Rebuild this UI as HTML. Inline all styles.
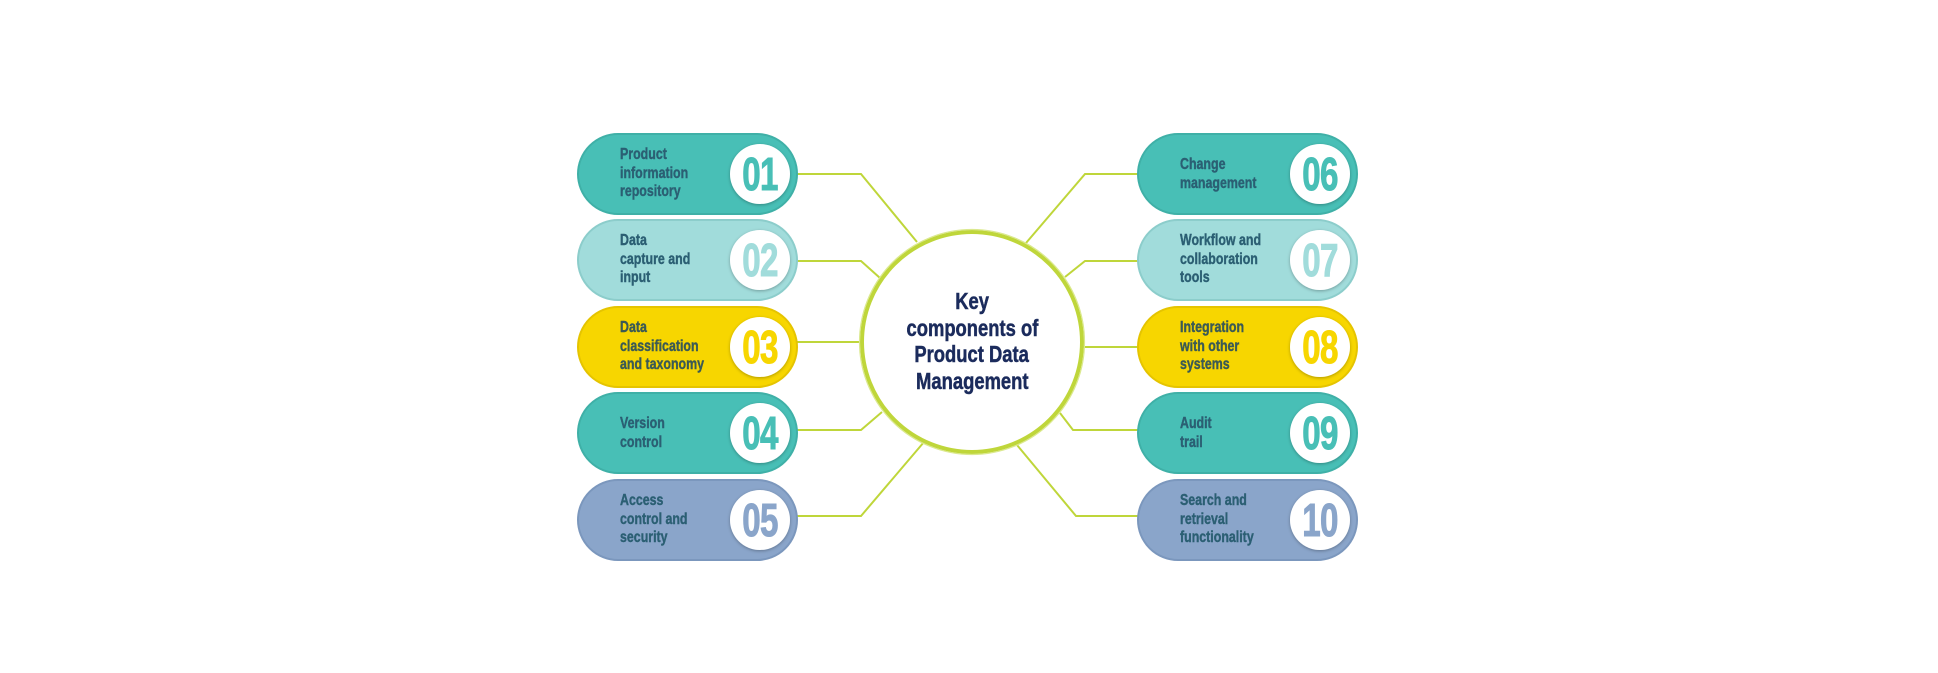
<!DOCTYPE html>
<html><head><meta charset="utf-8"><style>
body{margin:0;width:1938px;height:673px;background:#fff;overflow:hidden;position:relative;font-family:"Liberation Sans",sans-serif}
.t{position:absolute;font-weight:bold;font-size:15.5px;line-height:18.5px;color:#2b5f73;transform:scaleX(.8);transform-origin:left center;white-space:nowrap;-webkit-text-stroke:0.4px currentColor}
.n{position:absolute;width:64px;text-align:center;font-weight:bold;font-size:46px;line-height:60px;transform:scaleX(.72);letter-spacing:-1px;-webkit-text-stroke:1px currentColor}
.c{position:absolute;left:862px;top:288px;width:220px;text-align:center;font-weight:bold;font-size:23px;line-height:26.5px;color:#1b2b5c;-webkit-text-stroke:0.5px currentColor}
.c span{display:inline-block;transform:scaleX(.8)}
</style></head><body>
<svg width="1938" height="673" style="position:absolute;left:0;top:0">
<defs><filter id="s" x="-20%" y="-20%" width="140%" height="140%"><feDropShadow dx="0" dy="1" stdDeviation="1.5" flood-color="#000" flood-opacity=".3"/></filter></defs>
<g fill="none" stroke="#bfd63a" stroke-width="2">
<polyline points="797,174 861,174 917,242"/>
<polyline points="797,261 861,261 880,278"/>
<polyline points="797,342 862,342"/>
<polyline points="797,430 861,430 882,412"/>
<polyline points="797,516 861,516 924,442"/>
<polyline points="1138,174 1085,174 1026,243"/>
<polyline points="1138,261 1085,261 1065,277"/>
<polyline points="1138,347 1082,347"/>
<polyline points="1138,430 1073,430 1060,413"/>
<polyline points="1138,516 1076,516 1017,445"/>
</g>
<circle cx="972" cy="342" r="110" fill="#fff" stroke="#bfd63a" stroke-width="4"/>
<circle cx="972" cy="342" r="112.5" fill="none" stroke="#dbe98f" stroke-width="1.2"/>
<g stroke-width="2">
<rect x="578" y="134" width="219" height="80" rx="40" fill="#48bfb6" stroke="#3fb0a7"/>
<rect x="578" y="220" width="219" height="80" rx="40" fill="#a1dcdb" stroke="#8ccdcb"/>
<rect x="578" y="307" width="219" height="80" rx="40" fill="#f7d600" stroke="#e5c400"/>
<rect x="578" y="393" width="219" height="80" rx="40" fill="#48bfb6" stroke="#3fb0a7"/>
<rect x="578" y="480" width="219" height="80" rx="40" fill="#8aa5ca" stroke="#7b97bd"/>
<rect x="1138" y="134" width="219" height="80" rx="40" fill="#48bfb6" stroke="#3fb0a7"/>
<rect x="1138" y="220" width="219" height="80" rx="40" fill="#a1dcdb" stroke="#8ccdcb"/>
<rect x="1138" y="307" width="219" height="80" rx="40" fill="#f7d600" stroke="#e5c400"/>
<rect x="1138" y="393" width="219" height="80" rx="40" fill="#48bfb6" stroke="#3fb0a7"/>
<rect x="1138" y="480" width="219" height="80" rx="40" fill="#8aa5ca" stroke="#7b97bd"/>
</g>
<g fill="#fff" filter="url(#s)">
<circle cx="760" cy="174" r="30"/><circle cx="760" cy="260" r="30"/><circle cx="760" cy="347" r="30"/><circle cx="760" cy="433" r="30"/><circle cx="760" cy="520" r="30"/>
<circle cx="1320" cy="174" r="30"/><circle cx="1320" cy="260" r="30"/><circle cx="1320" cy="347" r="30"/><circle cx="1320" cy="433" r="30"/><circle cx="1320" cy="520" r="30"/>
</g>
</svg>
<div class="n" style="left:728px;top:144px;color:#48bfb6">01</div>
<div class="n" style="left:728px;top:230px;color:#a1dcdb">02</div>
<div class="n" style="left:728px;top:317px;color:#f7d600">03</div>
<div class="n" style="left:728px;top:403px;color:#48bfb6">04</div>
<div class="n" style="left:728px;top:490px;color:#8aa5ca">05</div>
<div class="n" style="left:1288px;top:144px;color:#48bfb6">06</div>
<div class="n" style="left:1288px;top:230px;color:#a1dcdb">07</div>
<div class="n" style="left:1288px;top:317px;color:#f7d600">08</div>
<div class="n" style="left:1288px;top:403px;color:#48bfb6">09</div>
<div class="n" style="left:1288px;top:490px;color:#8aa5ca">10</div>
<div class="t" style="left:620px;top:146px">Product<br>information<br>repository</div>
<div class="t" style="left:620px;top:232px">Data<br>capture and<br>input</div>
<div class="t" style="left:620px;top:319px;color:#3b5a55">Data<br>classification<br>and taxonomy</div>
<div class="t" style="left:620px;top:415px">Version<br>control</div>
<div class="t" style="left:620px;top:492px">Access<br>control and<br>security</div>
<div class="t" style="left:1180px;top:156px">Change<br>management</div>
<div class="t" style="left:1180px;top:232px">Workflow and<br>collaboration<br>tools</div>
<div class="t" style="left:1180px;top:319px;color:#3b5a55">Integration<br>with other<br>systems</div>
<div class="t" style="left:1180px;top:415px">Audit<br>trail</div>
<div class="t" style="left:1180px;top:492px">Search and<br>retrieval<br>functionality</div>
<div class="c"><span>Key</span><br><span>components of</span><br><span>Product Data</span><br><span>Management</span></div>
</body></html>
